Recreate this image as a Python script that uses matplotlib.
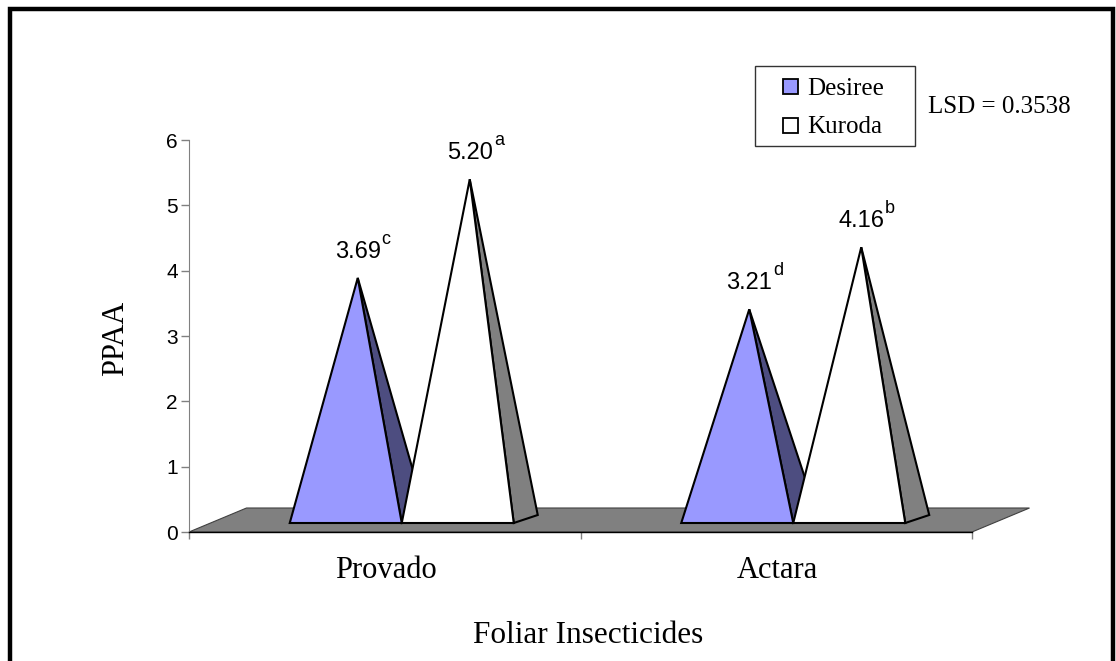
import matplotlib
matplotlib.use("Agg")
import matplotlib.pyplot as plt
from matplotlib.patches import Polygon, Rectangle
from matplotlib.transforms import offset_copy

# ---- data ----
categories = ["Provado", "Actara"]
series = ["Desiree", "Kuroda"]
desiree_values = [3.69, 3.21]
kuroda_values = [5.20, 4.16]
desiree_letters = ["c", "d"]
kuroda_letters = ["a", "b"]
y_ticks = [0, 1, 2, 3, 4, 5, 6]
x_title = "Foliar Insecticides"
y_title = "PPAA"
lsd_note = "LSD = 0.3538"

values = [desiree_values, kuroda_values]
letters = [desiree_letters, kuroda_letters]
front_colors = ["#9999FF", "#FFFFFF"]
side_colors = ["#4D4D80", "#808080"]

SANS = "Liberation Sans"
SERIF = "Liberation Serif"

W, H = 1116, 661
fig = plt.figure(figsize=(W / 100, H / 100), dpi=100)

# axes box in pixels: x 189..972, y 140..532
ax_left, ax_right, ax_top, ax_bottom = 189, 972, 140, 532
ax = fig.add_axes([ax_left / W, 1 - ax_bottom / H,
                   (ax_right - ax_left) / W, (ax_bottom - ax_top) / H])
ax.set_xlim(0, len(categories))
ax.set_ylim(0, 6)
ax.patch.set_alpha(0)

px_x = (ax_right - ax_left) / len(categories)   # pixels per category
px_y = (ax_bottom - ax_top) / 6.0               # pixels per unit value

# 3-D floor (parallelogram receding up and to the right)
fdx, fdy = 57.5 / px_x, 24 / px_y
floor = Polygon([(0, 0), (len(categories), 0),
                 (len(categories) + fdx, fdy), (fdx, fdy)],
                closed=True, facecolor="#808080", edgecolor="#404040",
                linewidth=0.8, clip_on=False, zorder=1)
ax.add_patch(floor)

# pyramids
pw = 112 / px_x          # base width
shift = 17 / px_x        # offset of the pair inside a category
base_y = 9 / px_y        # front edge of the base above the floor front
ddx, ddy = 24 / px_x, 8 / px_y   # depth of the base

for i, cat in enumerate(categories):
    for j in range(len(series)):
        v = values[j][i]
        left = i + 0.5 - pw + shift + j * pw
        right = left + pw
        apex = (left + pw / 2 + ddx / 2, base_y + ddy / 2 + v)
        side = Polygon([(right, base_y), (right + ddx, base_y + ddy), apex],
                       closed=True, facecolor=side_colors[j], edgecolor="black",
                       linewidth=1.5, joinstyle="miter", clip_on=False,
                       zorder=2 + j * 2)
        front = Polygon([(left, base_y), (right, base_y), apex],
                        closed=True, facecolor=front_colors[j], edgecolor="black",
                        linewidth=1.5, joinstyle="miter", clip_on=False,
                        zorder=3 + j * 2)
        ax.add_patch(side)
        ax.add_patch(front)

        num_tr = offset_copy(ax.transData, fig=fig, x=0, y=20, units="dots")
        ax.text(apex[0], apex[1], f"{v:.2f}", transform=num_tr,
                ha="center", va="baseline", fontsize=17, family=SANS,
                zorder=10, clip_on=False)
        sup_tr = offset_copy(ax.transData, fig=fig, x=24, y=34, units="dots")
        ax.text(apex[0], apex[1], letters[j][i], transform=sup_tr,
                ha="left", va="baseline", fontsize=13, family=SANS,
                zorder=10, clip_on=False)

# axes styling
for s in ["top", "right"]:
    ax.spines[s].set_visible(False)
ax.spines["left"].set_color("#808080")
ax.spines["bottom"].set_color("#000000")
ax.spines["bottom"].set_linewidth(1.0)
ax.spines["bottom"].set_zorder(6)

ax.set_yticks(y_ticks)
ax.set_yticklabels([str(t) for t in y_ticks], family=SANS, fontsize=15)
ax.tick_params(axis="y", direction="out", length=6, width=1,
               color="#808080", pad=2)
ax.set_xticks(range(len(categories) + 1))
ax.set_xticklabels([])
ax.tick_params(axis="x", direction="out", length=5, width=1, color="#808080")

for i, cat in enumerate(categories):
    ax.annotate(cat, xy=(i + 0.5, 0), xycoords=("data", "axes fraction"),
                xytext=(1, -46), textcoords="offset pixels",
                ha="center", va="baseline", fontsize=22, family=SERIF,
                annotation_clip=False)

# titles
fig.text(588 / W, 1 - 643 / H, x_title, ha="center", va="baseline",
         fontsize=22.5, family=SERIF)
fig.text(116 / W, 1 - 338 / H, y_title, ha="center", va="center",
         rotation=90, fontsize=22, family=SERIF)

# legend box
fig.add_artist(Rectangle((755 / W, 1 - 146 / H), 160 / W, 80 / H,
                         transform=fig.transFigure, facecolor="white",
                         edgecolor="#333333", linewidth=1.0))
for j, name in enumerate(series):
    y_top = 79 + j * 39
    fig.add_artist(Rectangle((783 / W, 1 - (y_top + 15) / H), 15 / W, 15 / H,
                             transform=fig.transFigure,
                             facecolor=front_colors[j], edgecolor="black",
                             linewidth=1.3))
    fig.text(807 / W, 1 - (95 + j * 38) / H, name, ha="left", va="baseline",
             fontsize=18, family=SERIF)

fig.text(928 / W, 1 - 113 / H, lsd_note, ha="left", va="baseline",
         fontsize=18, family=SERIF)

# outer frame (open at the bottom edge)
fig.add_artist(Rectangle((9.5 / W, -0.05), (1113 - 9.5) / W, 1.05 - 9.5 / H,
                         transform=fig.transFigure, fill=False,
                         edgecolor="black", linewidth=3.2))

fig.savefig("out.png", dpi=100)
